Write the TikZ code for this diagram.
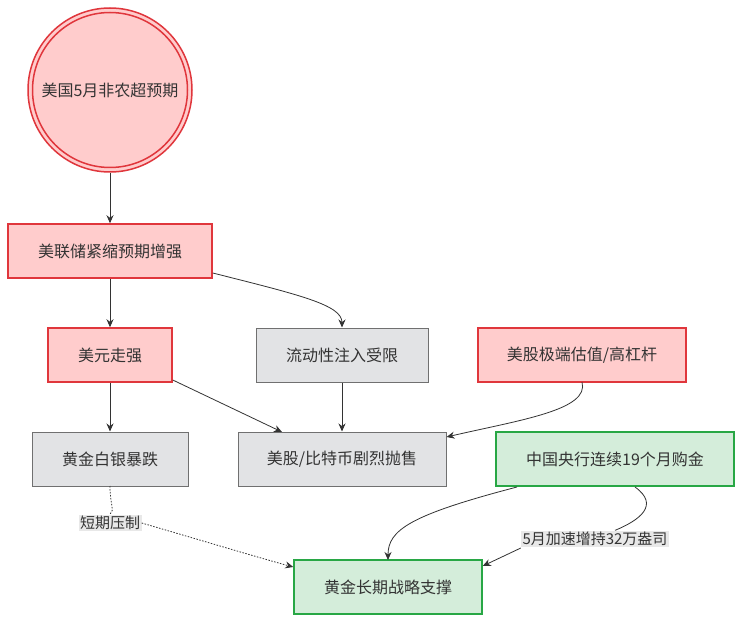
\documentclass[tikz,border=0pt]{standalone}
\usepackage{fontspec}
\setmainfont{Noto Sans CJK SC}
\usetikzlibrary{arrows.meta,shapes.geometric}
\definecolor{redfill}{HTML}{FFCCCC}
\definecolor{redline}{HTML}{E0363C}
\definecolor{grayfill}{HTML}{E2E3E5}
\definecolor{grayline}{HTML}{707070}
\definecolor{greenfill}{HTML}{D4EDDA}
\definecolor{greenline}{HTML}{28A745}
\definecolor{txt}{HTML}{333333}
\definecolor{lblbg}{HTML}{E8E8E8}
\tikzset{
  base/.style={draw, line width=1.5pt, minimum height=54pt, inner sep=0pt, font=\fontsize{16pt}{18pt}\selectfont, text=txt},
  redbox/.style={base, fill=redfill, draw=redline},
  graybox/.style={base, fill=grayfill, draw=grayline, line width=1pt},
  greenbox/.style={base, fill=greenfill, draw=greenline},
  conn/.style={draw=black!80, line width=0.8pt, -{Stealth[length=8pt,width=7pt]}},
  dotline/.style={dash pattern=on 1.5pt off 1.5pt},
  lbl/.style={fill=lblbg, inner sep=1.5pt, font=\fontsize{15pt}{17pt}\selectfont, text=txt},
}
\begin{document}
\begin{tikzpicture}[x=1pt,y=-1pt]
\useasboundingbox (0,0) rectangle (742,623);
\fill[white] (0,0) rectangle (742,623);
% circle
\node[circle, fill=redfill, draw=redline, line width=1.5pt, minimum size=164pt, inner sep=0pt] (c) at (110,90) {};
\draw[redline, line width=1.5pt] (110,90) circle (77.5pt);
\node[font=\fontsize{16pt}{18pt}\selectfont, text=txt] at (110,90) {美国5月非农超预期};
\node[redbox, minimum width=204pt] (fed) at (110,251) {美联储紧缩预期增强};
\node[redbox, minimum width=124pt] (usd) at (110,355) {美元走强};
\node[graybox, minimum width=172pt] (liq) at (342,355) {流动性注入受限};
\node[redbox, minimum width=208pt] (val) at (582,355) {美股极端估值/高杠杆};
\node[graybox, minimum width=156pt] (gs) at (110,459) {黄金白银暴跌};
\node[graybox, minimum width=208pt] (btc) at (342,459) {美股/比特币剧烈抛售};
\node[greenbox, minimum width=238pt] (cb) at (615,459) {中国央行连续19个月购金};
\node[greenbox, minimum width=188pt] (gold) at (388,587) {黄金长期战略支撑};
% edges
\draw[conn] (c) -- (fed);
\draw[conn] (fed) -- (usd);
\draw[conn] (fed.east |- 0,273) .. controls (300,295) and (342,305) .. (liq.north);
\draw[conn] (usd) -- (gs);
\draw[conn] (usd.east |- 0,380) -- (282,432);
\draw[conn] (liq) -- (btc);
\draw[conn] (582,382) .. controls (590,410) and (520,420) .. (btc.east |- 0,437);
\node[lbl] (l1) at (110,523) {短期压制};
\draw[black!80, line width=0.8pt, dotline] (110,486) .. controls (110,505) and (115,510) .. (l1.north);
\draw[conn, dotline] (l1.east) .. controls (200,540) and (260,558) .. (gold.west |- 0,567);
\draw[conn] (517,487) .. controls (410,515) and (388,530) .. (388,560);
\node[lbl] (l2) at (595,539) {5月加速增持32万盎司};
\draw[black!80, line width=0.8pt] (635,487) .. controls (660,505) and (640,520) .. (l2.north -| 615,0);
\draw[conn] (l2.west |- 0,548) -- (gold.east |- 0,566);
\end{tikzpicture}
\end{document}
